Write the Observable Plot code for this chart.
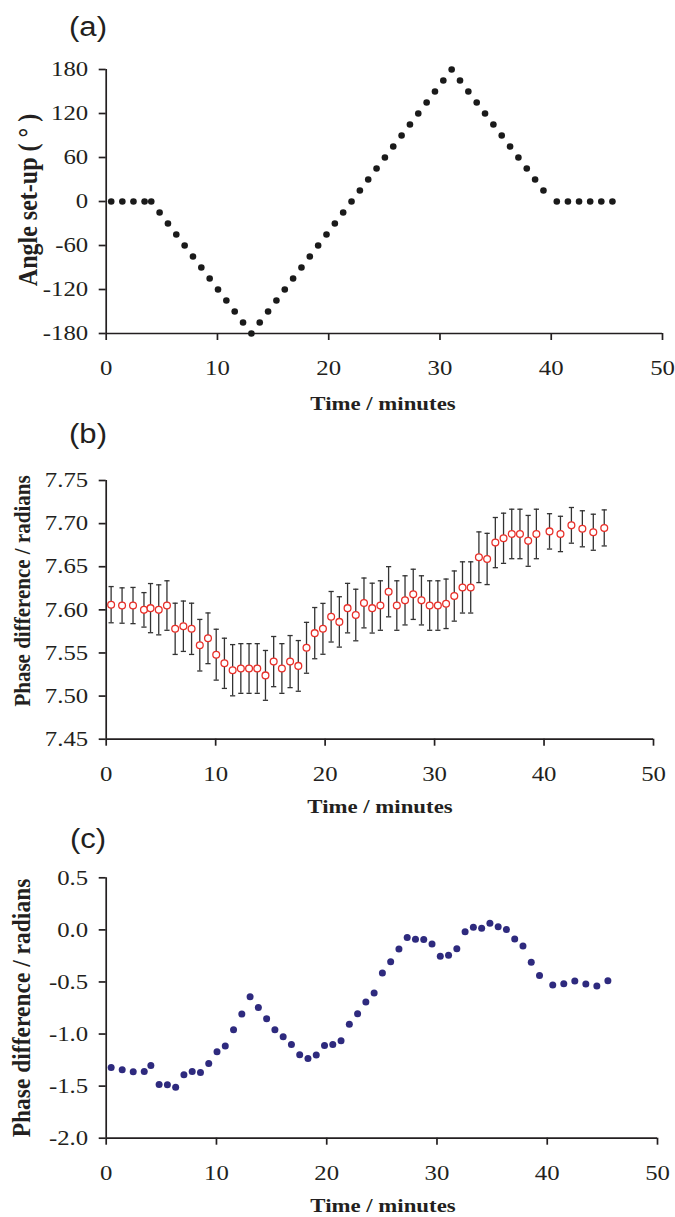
<!DOCTYPE html>
<html><head><meta charset="utf-8">
<script src="https://cdn.jsdelivr.net/npm/d3@7"></script>
<script src="https://cdn.jsdelivr.net/npm/@observablehq/plot@0.6"></script>
<style>
body{margin:0;background:#fff;}
#wrap{position:relative;width:675px;height:1217px;overflow:hidden;background:#fff;}
.panel{position:absolute;left:0;}
.lab{position:absolute;font-family:"Liberation Sans",Arial,sans-serif;font-size:27px;color:#231f20;transform:translate(-50%,-50%) scaleX(1.15);white-space:nowrap;line-height:1;}
.xt{position:absolute;font-family:"Liberation Serif","Times New Roman",serif;font-weight:bold;font-size:19px;color:#231f20;transform:translate(-50%,-50%) scaleX(1.2);white-space:nowrap;line-height:1;}
.yt{position:absolute;font-family:"Liberation Serif","Times New Roman",serif;font-weight:bold;color:#231f20;transform:translate(-50%,-50%) scaleX(1.1) rotate(-90deg);white-space:pre;line-height:1;}
</style>
</head><body>
<div id="wrap"></div>
<script>
// ---- data ----
const time = [0.45,1.45,2.45,3.45,4.05,4.8,5.55,6.3,7.05,7.8,8.55,9.3,10.05,10.8,11.55,12.3,13.05,13.8,14.55,15.3,16.05,16.8,17.55,18.3,19.05,19.8,20.55,21.3,22.05,22.8,23.55,24.3,25.05,25.8,26.55,27.3,28.05,28.8,29.55,30.3,31.05,31.8,32.55,33.3,34.05,34.8,35.55,36.3,37.05,37.8,38.55,39.3,40.5,41.5,42.5,43.5,44.5,45.5];
const angle = [0,0,0,0,0,-15,-30,-45,-60,-75,-90,-105,-120,-135,-150,-165,-180,-165,-150,-135,-120,-105,-90,-75,-60,-45,-30,-15,0,15,30,45,60,75,90,105,120,135,150,165,180,165,150,135,120,105,90,75,60,45,30,15,0,0,0,0,0,0];
const phaseB = [7.606,7.605,7.605,7.600,7.602,7.600,7.605,7.578,7.581,7.578,7.559,7.567,7.548,7.538,7.530,7.532,7.532,7.532,7.524,7.540,7.532,7.540,7.535,7.556,7.573,7.578,7.592,7.586,7.602,7.594,7.608,7.602,7.605,7.621,7.605,7.611,7.618,7.611,7.605,7.605,7.607,7.616,7.626,7.626,7.661,7.659,7.678,7.683,7.688,7.688,7.680,7.688,7.691,7.688,7.698,7.694,7.690,7.695];
const errB = [0.021,0.0205,0.021,0.020,0.0285,0.029,0.0287,0.0297,0.0292,0.0297,0.0299,0.0294,0.0295,0.0291,0.0297,0.0288,0.0288,0.0288,0.0289,0.0291,0.0288,0.0302,0.0294,0.0295,0.0297,0.0295,0.0293,0.0292,0.0287,0.0299,0.0289,0.0289,0.0287,0.0291,0.0287,0.0285,0.0291,0.0285,0.0287,0.0287,0.0287,0.0291,0.0297,0.0297,0.0294,0.0297,0.0291,0.0291,0.0287,0.0287,0.0295,0.0287,0.0205,0.0205,0.0207,0.0209,0.0209,0.0209];
const phaseC = [-1.321,-1.343,-1.362,-1.359,-1.302,-1.485,-1.488,-1.510,-1.391,-1.359,-1.369,-1.283,-1.170,-1.115,-0.959,-0.808,-0.641,-0.744,-0.853,-0.959,-1.026,-1.100,-1.199,-1.234,-1.202,-1.109,-1.100,-1.064,-0.907,-0.805,-0.692,-0.606,-0.413,-0.305,-0.183,-0.074,-0.090,-0.093,-0.135,-0.254,-0.244,-0.180,-0.019,0.025,0.015,0.064,0.029,0.003,-0.087,-0.154,-0.311,-0.439,-0.529,-0.516,-0.490,-0.519,-0.538,-0.488];

const xTicks = [0,10,20,30,40,50];
const xTickLabels = ["0","10","20","30","40","50"];
const yTicksA = [-180,-120,-60,0,60,120,180];
const yTickLabelsA = ["-180","-120","-60","0","60","120","180"];
const yTicksB = [7.45,7.50,7.55,7.60,7.65,7.70,7.75];
const yTickLabelsB = ["7.45","7.50","7.55","7.60","7.65","7.70","7.75"];
const yTicksC = [-2.0,-1.5,-1.0,-0.5,0.0,0.5];
const yTickLabelsC = ["-2.0","-1.5","-1.0","-0.5","0.0","0.5"];

const panelLetters = ["(a)","(b)","(c)"];
const xTitle = "Time / minutes";
const yTitles = ["Angle set-up ( \u00b0 )","Phase difference / radians","Phase difference / radians"];

// ---- rendering ----
const ink = "#231f20";
const serif = '"Liberation Serif","Times New Roman",serif';
const wrap = document.getElementById("wrap");
const lab = (ticks, labels) => d => labels[ticks.findIndex(t => Math.abs(t - d) < 1e-9)] ?? "";

function styleText(svg, k) {
  svg.querySelectorAll("text").forEach(t => {
    t.setAttribute("stroke", "none");
    t.style.stroke = "none";
    t.setAttribute("fill", ink);
    const tr = t.getAttribute("transform") || "";
    t.setAttribute("transform", tr + ` scale(${k},1)`);
  });
  svg.querySelectorAll("g[aria-label$='tick label']").forEach(g => { g.setAttribute("stroke", "none"); g.style.stroke = "none"; });
}

function makePanel({top, height, mt, mb, mr, yTicks, yLabels, marks}) {
  const svg = Plot.plot({
    width: 675, height,
    marginTop: mt, marginBottom: mb, marginLeft: 105.7, marginRight: mr,
    x: {domain: [xTicks[0], xTicks[xTicks.length - 1]]},
    y: {domain: [yTicks[0], yTicks[yTicks.length - 1]]},
    style: `font-family: ${serif}; font-size: 21px; color: ${ink}; background: transparent; overflow: visible;`,
    marks: [
      Plot.ruleX([xTicks[0]], {stroke: ink, strokeWidth: 1.7}),
      Plot.ruleY([yTicks[0]], {stroke: ink, strokeWidth: 1.7}),
      Plot.axisX({ticks: xTicks, tickSize: 7, tickPadding: 20, tickFormat: lab(xTicks, xTickLabels), label: null, strokeWidth: 1.7, fontSize: 21}),
      Plot.axisY({ticks: yTicks, tickSize: 7, tickPadding: 11, tickFormat: lab(yTicks, yLabels), label: null, strokeWidth: 1.7, fontSize: 21}),
      ...marks
    ]
  });
  styleText(svg, 1.18);
  const div = document.createElement("div");
  div.className = "panel";
  div.style.top = top + "px";
  div.appendChild(svg);
  wrap.appendChild(div);
}

const dataA = time.map((t, i) => ({t, v: angle[i]}));
const dataB = time.map((t, i) => ({t, v: phaseB[i], e: errB[i]}));
const dataC = time.map((t, i) => ({t, v: phaseC[i]}));

const cap = {draw(ctx) { ctx.moveTo(-2.6, 0); ctx.lineTo(2.6, 0); }};

makePanel({top: 0, height: 420, mt: 69, mb: 87, mr: 13, yTicks: yTicksA, yLabels: yTickLabelsA,
  marks: [Plot.dot(dataA, {x: "t", y: "v", r: 3.3, fill: "#1a1a1a", stroke: "none"})]});

makePanel({top: 420, height: 400, mt: 60, mb: 81.3, mr: 22, yTicks: yTicksB, yLabels: yTickLabelsB,
  marks: [
    Plot.ruleX(dataB, {x: "t", y1: d => d.v - d.e, y2: d => d.v + d.e, stroke: "#333", strokeWidth: 1.3}),
    Plot.dot(dataB, {x: "t", y: d => d.v + d.e, symbol: cap, stroke: "#333", strokeWidth: 1.3, fill: "none"}),
    Plot.dot(dataB, {x: "t", y: d => d.v - d.e, symbol: cap, stroke: "#333", strokeWidth: 1.3, fill: "none"}),
    Plot.dot(dataB, {x: "t", y: "v", r: 3.4, fill: "white", stroke: "#e8302a", strokeWidth: 1.3})
  ]});

makePanel({top: 820, height: 397, mt: 57.3, mb: 79.3, mr: 18, yTicks: yTicksC, yLabels: yTickLabelsC,
  marks: [Plot.dot(dataC, {x: "t", y: "v", r: 3.5, fill: "#2e2a7e", stroke: "none"})]});

// ---- HTML text ----
function addText(cls, txt, x, y, size) {
  const d = document.createElement("div");
  d.className = cls;
  d.textContent = txt;
  d.style.left = x + "px";
  d.style.top = y + "px";
  if (size) d.style.fontSize = size + "px";
  wrap.appendChild(d);
}
addText("lab", panelLetters[0], 88, 27);
addText("lab", panelLetters[1], 88, 434);
addText("lab", panelLetters[2], 88, 839);
addText("xt", xTitle, 383, 403);
addText("xt", xTitle, 380, 806);
addText("xt", xTitle, 383, 1205);
addText("yt", yTitles[0], 28, 200, 24);
addText("yt", yTitles[1], 23, 591, 21);
addText("yt", yTitles[2], 22, 1008, 23.5);
</script>
</body></html>
